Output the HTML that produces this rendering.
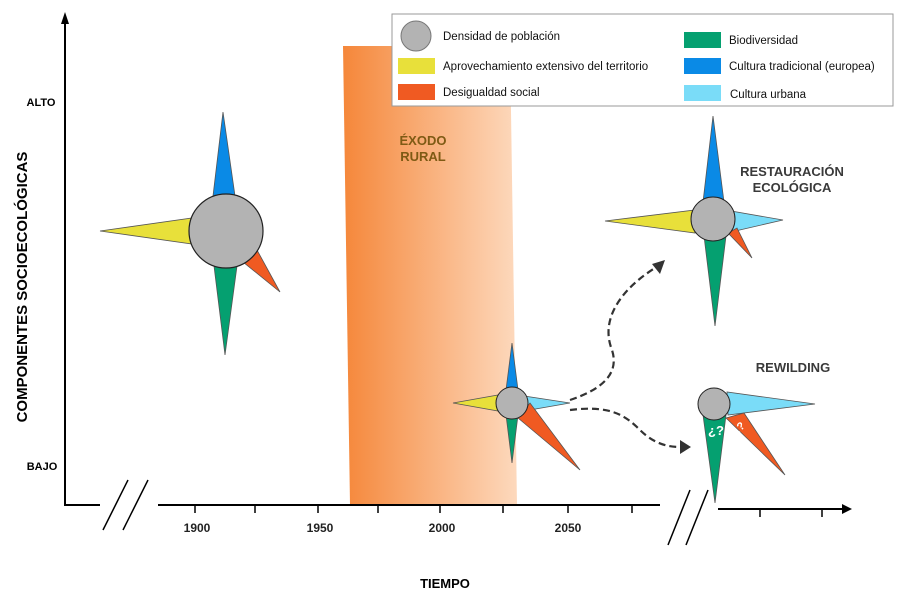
<!DOCTYPE html>
<html><head><meta charset="utf-8"><style>
body{margin:0;background:#fff}
svg text{font-family:"Liberation Sans",sans-serif}
</style></head><body>
<svg width="900" height="602" viewBox="0 0 900 602" xmlns="http://www.w3.org/2000/svg">
<defs>
<linearGradient id="g" x1="0" x2="1" y1="0" y2="0">
<stop offset="0" stop-color="#f5873a"/><stop offset="1" stop-color="#fdd9bd"/>
</linearGradient>
</defs>
<rect width="900" height="602" fill="#fff"/>
<polygon points="343,46 510,46 517,505 350,505" fill="url(#g)"/>
<text x="423" y="145" text-anchor="middle" font-size="13" font-weight="bold" fill="#7e5a14">ÉXODO</text>
<text x="423" y="161" text-anchor="middle" font-size="13" font-weight="bold" fill="#7e5a14">RURAL</text>

<!-- axes -->
<g stroke="#000" stroke-width="2" fill="none">
<line x1="65" y1="506" x2="65" y2="22"/>
<line x1="65" y1="505" x2="100" y2="505"/>
<line x1="158" y1="505" x2="660" y2="505"/>
<line x1="718" y1="509" x2="845" y2="509"/>
<line x1="103" y1="530" x2="128" y2="480" stroke-width="1.5"/>
<line x1="123" y1="530" x2="148" y2="480" stroke-width="1.5"/>
<line x1="668" y1="545" x2="690" y2="490" stroke-width="1.5"/>
<line x1="686" y1="545" x2="708" y2="490" stroke-width="1.5"/>
<g stroke-width="1.5">
<line x1="195" y1="505" x2="195" y2="513"/><line x1="255" y1="505" x2="255" y2="513"/>
<line x1="318" y1="505" x2="318" y2="513"/><line x1="378" y1="505" x2="378" y2="513"/>
<line x1="440" y1="505" x2="440" y2="513"/><line x1="503" y1="505" x2="503" y2="513"/>
<line x1="568" y1="505" x2="568" y2="513"/><line x1="632" y1="505" x2="632" y2="513"/>
<line x1="760" y1="509" x2="760" y2="517"/><line x1="822" y1="509" x2="822" y2="517"/>
</g>
</g>
<polygon points="65,12 61,24 69,24" fill="#000"/>
<polygon points="852,509 842,504 842,514" fill="#000"/>
<g font-size="12" font-weight="bold" fill="#222" text-anchor="middle">
<text x="197" y="532">1900</text><text x="320" y="532">1950</text>
<text x="442" y="532">2000</text><text x="568" y="532">2050</text>
</g>
<text x="445" y="588" text-anchor="middle" font-size="13" font-weight="bold">TIEMPO</text>
<text x="41" y="106" text-anchor="middle" font-size="11" font-weight="bold">ALTO</text>
<text x="42" y="470" text-anchor="middle" font-size="11" font-weight="bold">BAJO</text>
<text transform="translate(27,287) rotate(-90)" text-anchor="middle" font-size="15" font-weight="bold">COMPONENTES SOCIOECOLÓGICAS</text>

<g stroke="#555" stroke-width="0.8">
<!-- compass 1 -->
<polygon points="223,112 213,196 235,196" fill="#0a8ae6"/>
<polygon points="100,231 192,218 192,244" fill="#e8e03a"/>
<polygon points="214,266 237,266 225,355" fill="#05a070"/>
<polygon points="243,262 257,250 280,292" fill="#f05a22"/>
<circle cx="226" cy="231" r="37" fill="#b3b3b3" stroke="#222" stroke-width="1.2"/>
<!-- compass 2 -->
<polygon points="512,343 506,390 518,390" fill="#0a8ae6"/>
<polygon points="453,403 498,395 498,411" fill="#e8e03a"/>
<polygon points="570,403 524,396 524,411" fill="#7adcf8"/>
<polygon points="506,415 518,415 512,463" fill="#05a070"/>
<polygon points="518,418 530,403 580,470" fill="#f05a22"/>
<circle cx="512" cy="403" r="16" fill="#b3b3b3" stroke="#222" stroke-width="1"/>
<!-- compass 3 -->
<polygon points="713,116 703,202 724,202" fill="#0a8ae6"/>
<polygon points="605,221 695,210 695,233" fill="#e8e03a"/>
<polygon points="783,220 731,211 731,232" fill="#7adcf8"/>
<polygon points="704,236 726,236 715,326" fill="#05a070"/>
<polygon points="728,233 737,228 752,258" fill="#f05a22"/>
<circle cx="713" cy="219" r="22" fill="#b3b3b3" stroke="#222" stroke-width="1"/>
<!-- compass 4 -->
<polygon points="815,404 727,392 728,415" fill="#7adcf8"/>
<polygon points="703,415 726,415 715,503" fill="#05a070"/>
<polygon points="726,418 744,413 785,475" fill="#f05a22"/>
<circle cx="714" cy="404" r="16" fill="#b3b3b3" stroke="#222" stroke-width="1"/>
</g>
<text x="716" y="435" text-anchor="middle" font-size="13" font-weight="bold" fill="#fff">¿?</text>
<text x="738" y="432" text-anchor="middle" font-size="11" font-weight="bold" fill="#fff" transform="rotate(-40 738 428)">¿?</text>

<!-- dashed arrows -->
<g stroke="#333" stroke-width="2.2" fill="none" stroke-dasharray="7,4">
<path d="M570,400 C600,390 620,375 612,350 C600,320 620,290 655,268"/>
<path d="M570,410 C610,405 625,415 640,430 C655,445 670,447 680,447"/>
</g>
<polygon points="665,260 652,264 660,274" fill="#333"/>
<polygon points="691,447 680,440 680,454" fill="#333"/>

<text x="792" y="176" text-anchor="middle" font-size="13" font-weight="bold" fill="#3a3a3a">RESTAURACIÓN</text>
<text x="792" y="192" text-anchor="middle" font-size="13" font-weight="bold" fill="#3a3a3a">ECOLÓGICA</text>
<text x="793" y="372" text-anchor="middle" font-size="13" font-weight="bold" fill="#3a3a3a">REWILDING</text>

<!-- legend -->
<rect x="392" y="14" width="501" height="92" fill="#fff" stroke="#999" stroke-width="1"/>
<circle cx="416" cy="36" r="15" fill="#b3b3b3" stroke="#777"/>
<rect x="398" y="58" width="37" height="16" fill="#e8e03a"/>
<rect x="398" y="84" width="37" height="16" fill="#f05a22"/>
<rect x="684" y="32" width="37" height="16" fill="#05a070"/>
<rect x="684" y="58" width="37" height="16" fill="#0a8ae6"/>
<rect x="684" y="85" width="37" height="16" fill="#7adcf8"/>
<g font-size="11.5" fill="#111">
<text x="443" y="40">Densidad de población</text>
<text x="443" y="70">Aprovechamiento extensivo del territorio</text>
<text x="443" y="96">Desigualdad social</text>
<text x="729" y="44">Biodiversidad</text>
<text x="729" y="70">Cultura tradicional (europea)</text>
<text x="730" y="98">Cultura urbana</text>
</g>
</svg>
</body></html>
